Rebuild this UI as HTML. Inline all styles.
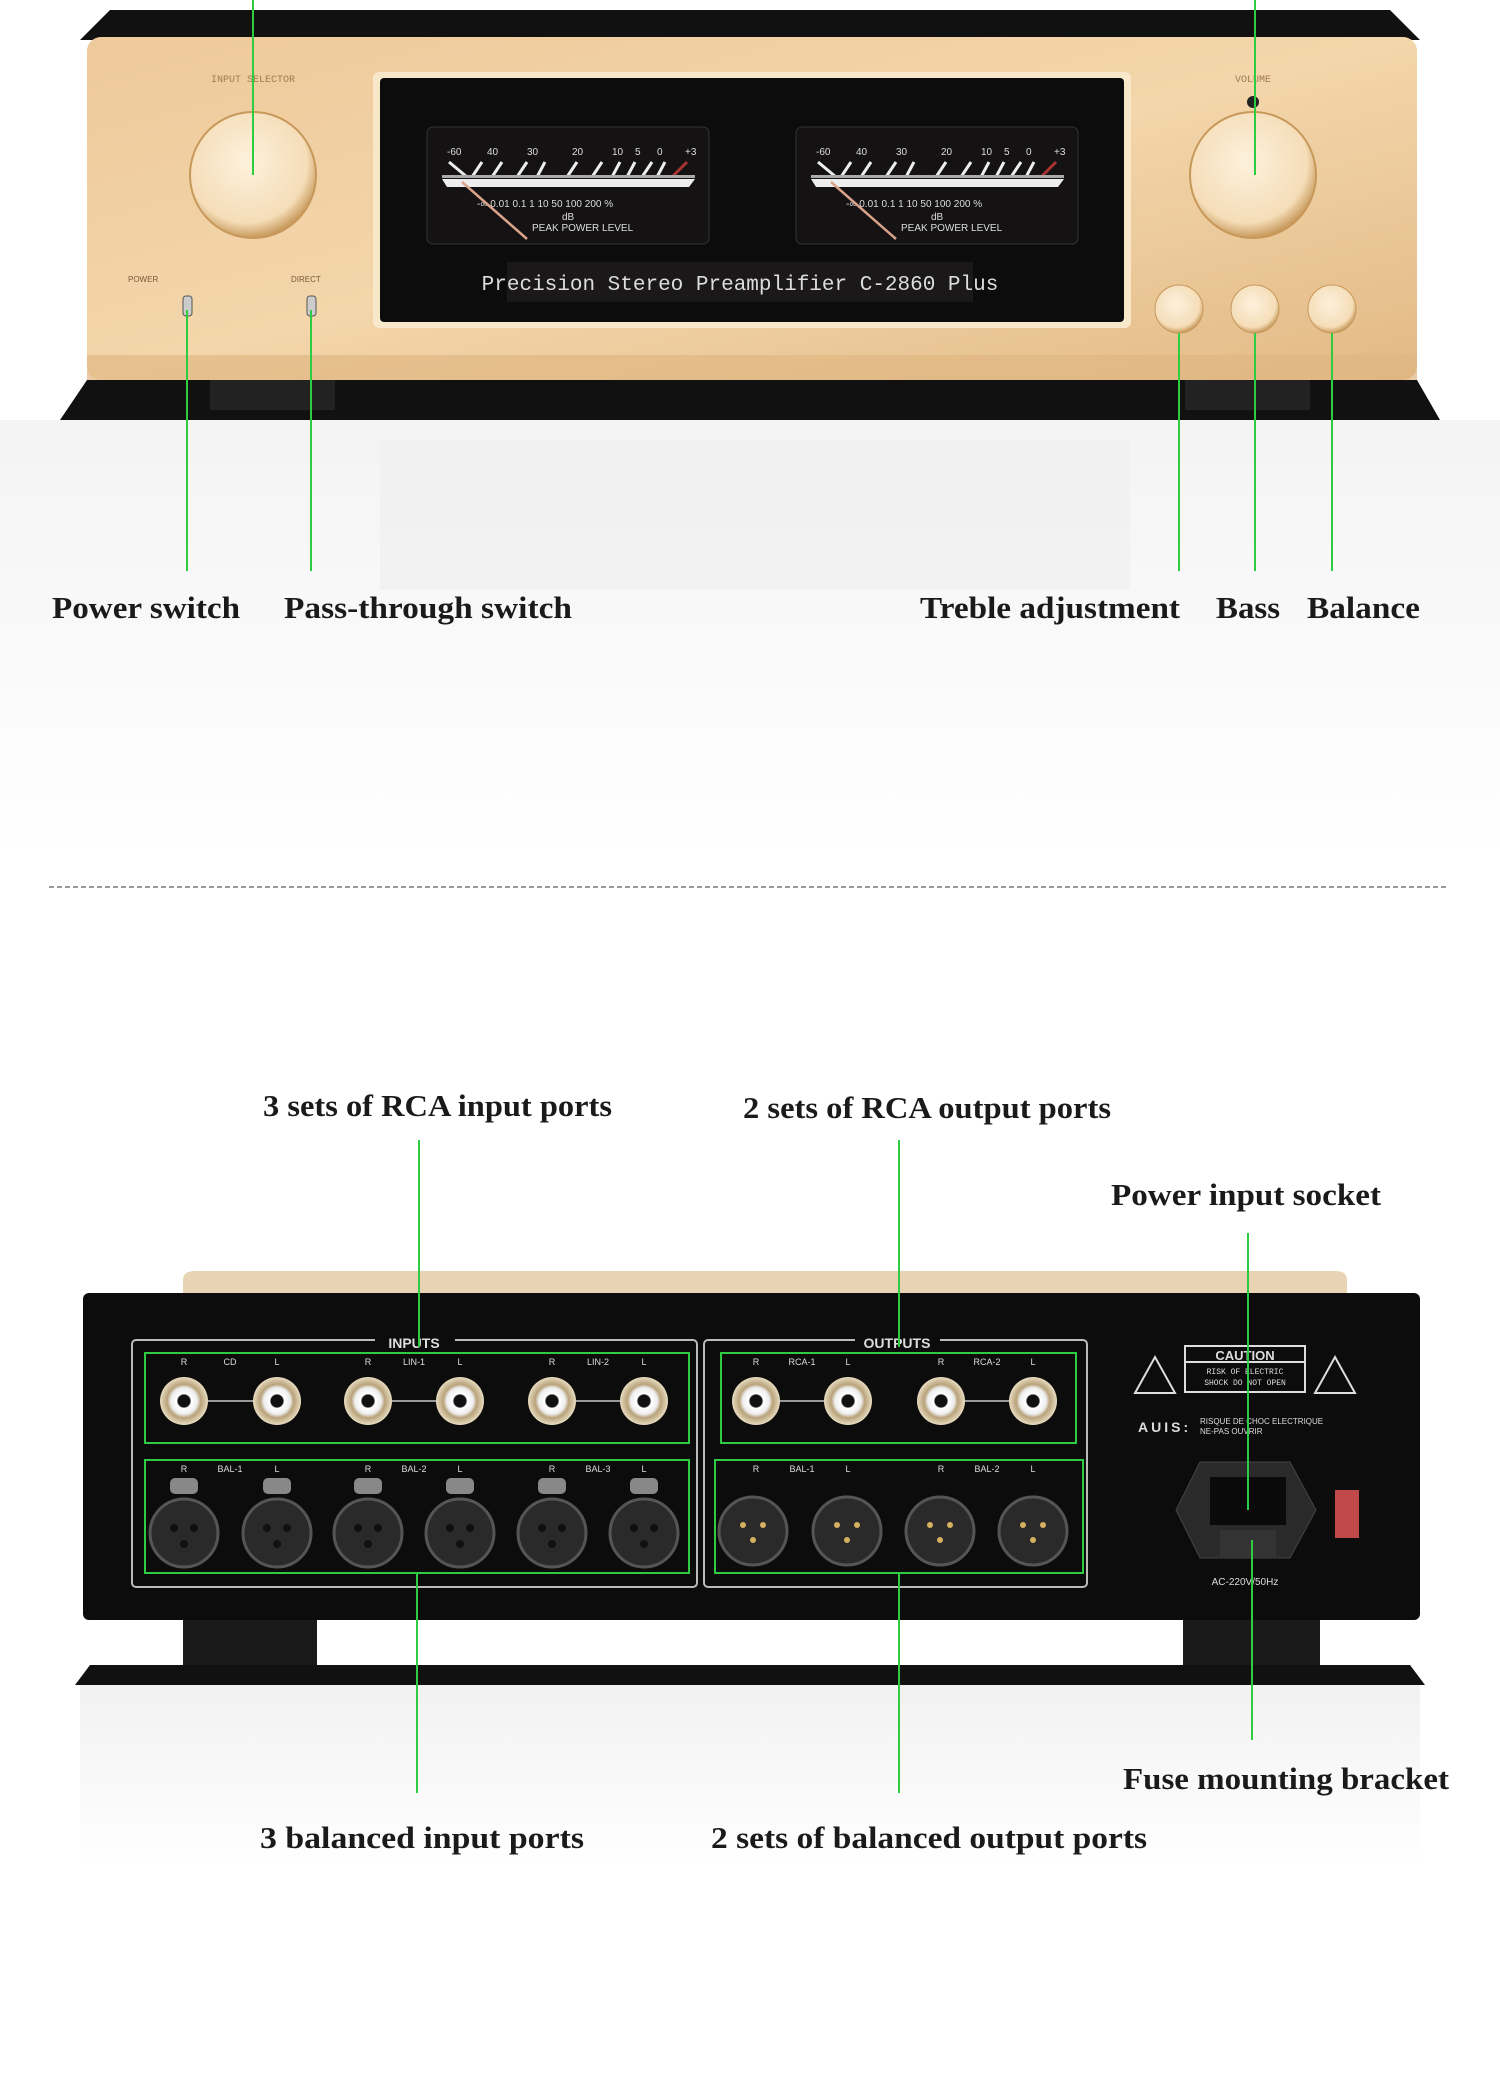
<!DOCTYPE html>
<html><head><meta charset="utf-8"><style>
html,body{margin:0;padding:0;background:#fff;}
svg{display:block;}
.lbl{font-family:"Liberation Serif",serif;font-weight:bold;font-size:31px;fill:#1a1a1a;}
.sm{font-family:"Liberation Sans",sans-serif;font-size:10px;fill:#ddd;}
</style></head><body>
<svg width="1500" height="2088" viewBox="0 0 1500 2088" xmlns="http://www.w3.org/2000/svg">
<defs>
<linearGradient id="gold" x1="0" y1="0" x2="1" y2="1">
<stop offset="0" stop-color="#eec99a"/><stop offset="0.5" stop-color="#f3d6ab"/><stop offset="1" stop-color="#e2b984"/></linearGradient>
<radialGradient id="knob" cx="0.45" cy="0.4" r="0.6"><stop offset="0" stop-color="#fdf1dc"/><stop offset="0.8" stop-color="#f5ddb8"/><stop offset="1" stop-color="#c89a5c"/></radialGradient>
<linearGradient id="refl" x1="0" y1="0" x2="0" y2="1"><stop offset="0" stop-color="#e8e8e8"/><stop offset="1" stop-color="#ffffff"/></linearGradient>
<radialGradient id="rca"><stop offset="0" stop-color="#111"/><stop offset="0.25" stop-color="#111"/><stop offset="0.3" stop-color="#fff"/><stop offset="0.55" stop-color="#eee"/><stop offset="0.7" stop-color="#b8a27a"/><stop offset="1" stop-color="#e8dcc0"/></radialGradient>
<g id="meter">
<rect x="0" y="0" width="282" height="117" rx="6" fill="#141212" stroke="#333"/>
<text x="20" y="28" class="sm" font-size="13">-60</text><text x="60" y="28" class="sm" font-size="13">40</text><text x="100" y="28" class="sm" font-size="13">30</text><text x="145" y="28" class="sm" font-size="13">20</text><text x="185" y="28" class="sm" font-size="13">10</text><text x="208" y="28" class="sm" font-size="13">5</text><text x="230" y="28" class="sm" font-size="13">0</text><text x="258" y="28" class="sm" font-size="13">+3</text>
<path d="M22 35 L40 50 M45 50 L55 35 M65 50 L75 35 M90 50 L100 35 M110 50 L118 35 M140 50 L150 35 M165 50 L175 35 M185 50 L193 35 M200 50 L208 35 M215 50 L225 35 M230 50 L238 35" stroke="#eee" stroke-width="3"/>
<path d="M245 50 L260 35" stroke="#a33" stroke-width="3"/>
<polygon points="15,52 268,52 262,60 20,60" fill="#eee"/>
<polygon points="15,48 268,48 268,51 15,51" fill="#aaa"/>
<text x="50" y="80" class="sm" font-size="8">-∞  0.01  0.1  1   10 50 100 200 %</text>
<text x="135" y="93" class="sm" font-size="10">dB</text>
<text x="105" y="104" class="sm" font-size="7">PEAK POWER LEVEL</text>
<line x1="35" y1="55" x2="100" y2="112" stroke="#d9a28a" stroke-width="2.5"/>
</g>
</defs>

<!-- FRONT -->
<rect x="0" y="420" width="1500" height="440" fill="url(#refl)" opacity="0.5"/>
<rect x="380" y="440" width="750" height="150" fill="#f0f0f0" opacity="0.7"/>
<polygon points="80,40 110,10 1390,10 1420,40" fill="#111"/>
<rect x="87" y="37" width="1330" height="343" rx="14" fill="url(#gold)"/>
<rect x="87" y="355" width="1330" height="25" fill="#e0b682" opacity="0.7"/>
<polygon points="87,380 1417,380 1440,420 60,420" fill="#111"/>
<rect x="210" y="380" width="125" height="30" fill="#222"/>
<rect x="1185" y="380" width="125" height="30" fill="#222"/>
<rect x="373" y="72" width="758" height="256" rx="6" fill="#f8e7c8"/>
<rect x="380" y="78" width="744" height="244" rx="4" fill="#0d0c0c"/>
<use href="#meter" x="427" y="127"/>
<use href="#meter" x="796" y="127"/>
<rect x="507" y="262" width="466" height="40" fill="#1a1818"/>
<text x="740" y="290" text-anchor="middle" font-family="Liberation Mono,monospace" font-size="21" fill="#ddd">Precision Stereo Preamplifier C-2860 Plus</text>
<text x="253" y="82" text-anchor="middle" font-family="Liberation Mono,monospace" font-size="10" fill="#a07a50">INPUT SELECTOR</text>
<text x="1253" y="82" text-anchor="middle" font-family="Liberation Mono,monospace" font-size="10" fill="#a07a50">VOLUME</text>
<circle cx="253" cy="175" r="63" fill="url(#knob)" stroke="#c8985a" stroke-width="2"/>
<circle cx="1253" cy="175" r="63" fill="url(#knob)" stroke="#c8985a" stroke-width="2"/>
<circle cx="1253" cy="102" r="6" fill="#222"/>
<circle cx="1179" cy="309" r="24" fill="url(#knob)" stroke="#c8985a"/>
<circle cx="1255" cy="309" r="24" fill="url(#knob)" stroke="#c8985a"/>
<circle cx="1332" cy="309" r="24" fill="url(#knob)" stroke="#c8985a"/>
<text x="128" y="282" font-family="Liberation Sans" font-size="8" fill="#7a5a3a">POWER</text>
<text x="291" y="282" font-family="Liberation Sans" font-size="8" fill="#7a5a3a">DIRECT</text>
<rect x="183" y="296" width="9" height="20" rx="3" fill="#ccc" stroke="#555"/>
<rect x="307" y="296" width="9" height="20" rx="3" fill="#ccc" stroke="#555"/>
<g stroke="#2ecc40" stroke-width="2">
<line x1="253" y1="0" x2="253" y2="175"/><line x1="1255" y1="0" x2="1255" y2="175"/>
<line x1="187" y1="310" x2="187" y2="571"/><line x1="311" y1="310" x2="311" y2="571"/>
<line x1="1179" y1="333" x2="1179" y2="571"/><line x1="1255" y1="333" x2="1255" y2="571"/><line x1="1332" y1="333" x2="1332" y2="571"/>
</g>
<text x="52" y="618" class="lbl" textLength="188" lengthAdjust="spacingAndGlyphs">Power switch</text>
<text x="284" y="618" class="lbl" textLength="288" lengthAdjust="spacingAndGlyphs">Pass-through switch</text>
<text x="920" y="618" class="lbl" textLength="260" lengthAdjust="spacingAndGlyphs">Treble adjustment</text>
<text x="1216" y="618" class="lbl" textLength="64" lengthAdjust="spacingAndGlyphs">Bass</text>
<text x="1307" y="618" class="lbl" textLength="113" lengthAdjust="spacingAndGlyphs">Balance</text>

<line x1="49" y1="887" x2="1448" y2="887" stroke="#999" stroke-width="2" stroke-dasharray="5,3"/>

<!-- REAR -->
<rect x="80" y="1680" width="1340" height="190" fill="url(#refl)" opacity="0.6"/>
<path d="M183 1304 L183 1280 Q183 1271 195 1271 L1335 1271 Q1347 1271 1347 1280 L1347 1304 Z" fill="#e8d4b4"/>
<rect x="83" y="1293" width="1337" height="327" rx="6" fill="#0c0c0c"/>
<rect x="183" y="1620" width="134" height="45" fill="#1a1a1a"/>
<rect x="1183" y="1620" width="137" height="45" fill="#1a1a1a"/>
<polygon points="90,1665 1410,1665 1425,1685 75,1685" fill="#111"/>
<rect x="132" y="1340" width="565" height="247" rx="4" fill="none" stroke="#bbb" stroke-width="2"/>
<rect x="704" y="1340" width="383" height="247" rx="4" fill="none" stroke="#bbb" stroke-width="2"/>
<rect x="375" y="1330" width="80" height="20" fill="#0c0c0c"/><text x="414" y="1348" text-anchor="middle" font-family="Liberation Sans" font-weight="bold" font-size="14" fill="#ddd">INPUTS</text>
<rect x="855" y="1330" width="85" height="20" fill="#0c0c0c"/><text x="897" y="1348" text-anchor="middle" font-family="Liberation Sans" font-weight="bold" font-size="14" fill="#ddd">OUTPUTS</text>
<g fill="none" stroke="#2ecc40" stroke-width="2">
<rect x="145" y="1353" width="544" height="90"/><rect x="145" y="1460" width="544" height="113"/>
<rect x="721" y="1353" width="355" height="90"/><rect x="715" y="1460" width="368" height="113"/>
</g>
<g stroke="#999" stroke-width="2"><line x1="184" y1="1401" x2="277" y2="1401"/><line x1="368" y1="1401" x2="460" y2="1401"/><line x1="552" y1="1401" x2="644" y2="1401"/><line x1="756" y1="1401" x2="848" y2="1401"/><line x1="941" y1="1401" x2="1033" y2="1401"/></g>
<g fill="url(#rca)">
<circle cx="184" cy="1401" r="24"/><circle cx="277" cy="1401" r="24"/><circle cx="368" cy="1401" r="24"/><circle cx="460" cy="1401" r="24"/><circle cx="552" cy="1401" r="24"/><circle cx="644" cy="1401" r="24"/>
<circle cx="756" cy="1401" r="24"/><circle cx="848" cy="1401" r="24"/><circle cx="941" cy="1401" r="24"/><circle cx="1033" cy="1401" r="24"/>
</g>
<g font-family="Liberation Sans" font-size="9" fill="#ddd" text-anchor="middle">
<text x="184" y="1365">R</text><text x="230" y="1365">CD</text><text x="277" y="1365">L</text>
<text x="368" y="1365">R</text><text x="414" y="1365">LIN-1</text><text x="460" y="1365">L</text>
<text x="552" y="1365">R</text><text x="598" y="1365">LIN-2</text><text x="644" y="1365">L</text>
<text x="756" y="1365">R</text><text x="802" y="1365">RCA-1</text><text x="848" y="1365">L</text>
<text x="941" y="1365">R</text><text x="987" y="1365">RCA-2</text><text x="1033" y="1365">L</text>
<text x="184" y="1472">R</text><text x="230" y="1472">BAL-1</text><text x="277" y="1472">L</text>
<text x="368" y="1472">R</text><text x="414" y="1472">BAL-2</text><text x="460" y="1472">L</text>
<text x="552" y="1472">R</text><text x="598" y="1472">BAL-3</text><text x="644" y="1472">L</text>
<text x="756" y="1472">R</text><text x="802" y="1472">BAL-1</text><text x="848" y="1472">L</text>
<text x="941" y="1472">R</text><text x="987" y="1472">BAL-2</text><text x="1033" y="1472">L</text>
</g>
<g>
<g fill="#888"><rect x="170" y="1478" width="28" height="16" rx="5"/><rect x="263" y="1478" width="28" height="16" rx="5"/><rect x="354" y="1478" width="28" height="16" rx="5"/><rect x="446" y="1478" width="28" height="16" rx="5"/><rect x="538" y="1478" width="28" height="16" rx="5"/><rect x="630" y="1478" width="28" height="16" rx="5"/></g>
<g fill="#2a2a2a" stroke="#555" stroke-width="3">
<circle cx="184" cy="1533" r="34"/><circle cx="277" cy="1533" r="34"/><circle cx="368" cy="1533" r="34"/><circle cx="460" cy="1533" r="34"/><circle cx="552" cy="1533" r="34"/><circle cx="644" cy="1533" r="34"/>
<circle cx="753" cy="1531" r="34"/><circle cx="847" cy="1531" r="34"/><circle cx="940" cy="1531" r="34"/><circle cx="1033" cy="1531" r="34"/>
</g>
<g fill="#111"><circle cx="174" cy="1528" r="4"/><circle cx="194" cy="1528" r="4"/><circle cx="184" cy="1544" r="4"/><circle cx="267" cy="1528" r="4"/><circle cx="287" cy="1528" r="4"/><circle cx="277" cy="1544" r="4"/><circle cx="358" cy="1528" r="4"/><circle cx="378" cy="1528" r="4"/><circle cx="368" cy="1544" r="4"/><circle cx="450" cy="1528" r="4"/><circle cx="470" cy="1528" r="4"/><circle cx="460" cy="1544" r="4"/><circle cx="542" cy="1528" r="4"/><circle cx="562" cy="1528" r="4"/><circle cx="552" cy="1544" r="4"/><circle cx="634" cy="1528" r="4"/><circle cx="654" cy="1528" r="4"/><circle cx="644" cy="1544" r="4"/></g>
<g fill="#d4b060"><circle cx="743" cy="1525" r="3"/><circle cx="763" cy="1525" r="3"/><circle cx="753" cy="1540" r="3"/><circle cx="837" cy="1525" r="3"/><circle cx="857" cy="1525" r="3"/><circle cx="847" cy="1540" r="3"/><circle cx="930" cy="1525" r="3"/><circle cx="950" cy="1525" r="3"/><circle cx="940" cy="1540" r="3"/><circle cx="1023" cy="1525" r="3"/><circle cx="1043" cy="1525" r="3"/><circle cx="1033" cy="1540" r="3"/></g>
</g>
<g fill="none" stroke="#ddd" stroke-width="2">
<rect x="1185" y="1346" width="120" height="46"/><line x1="1185" y1="1362" x2="1305" y2="1362"/>
<polygon points="1135,1393 1155,1357 1175,1393"/><polygon points="1315,1393 1335,1357 1355,1393"/>
</g>
<text x="1245" y="1360" text-anchor="middle" font-family="Liberation Sans" font-weight="bold" font-size="13" fill="#ddd">CAUTION</text>
<text x="1245" y="1374" text-anchor="middle" font-family="Liberation Mono" font-size="8" fill="#ddd">RISK OF ELECTRIC</text>
<text x="1245" y="1385" text-anchor="middle" font-family="Liberation Mono" font-size="8" fill="#ddd">SHOCK DO NOT OPEN</text>
<text x="1138" y="1432" font-family="Liberation Sans" font-weight="bold" font-size="14" fill="#ddd" letter-spacing="3">AUIS:</text>
<text x="1200" y="1424" font-family="Liberation Sans" font-size="8" fill="#ddd">RISQUE DE CHOC ELECTRIQUE</text>
<text x="1200" y="1434" font-family="Liberation Sans" font-size="8" fill="#ddd">NE-PAS OUVRIR</text>
<polygon points="1200,1462 1290,1462 1316,1510 1290,1558 1200,1558 1176,1510" fill="#2a2a2a" stroke="#444"/>
<rect x="1210" y="1477" width="76" height="48" fill="#0a0a0a"/>
<rect x="1220" y="1530" width="56" height="28" fill="#333"/>
<rect x="1335" y="1490" width="24" height="48" fill="#c04848"/>
<text x="1245" y="1585" text-anchor="middle" font-family="Liberation Sans" font-size="10" fill="#ddd">AC-220V/50Hz</text>
<g stroke="#2ecc40" stroke-width="2">
<line x1="419" y1="1140" x2="419" y2="1347"/><line x1="899" y1="1140" x2="899" y2="1347"/>
<line x1="1248" y1="1233" x2="1248" y2="1510"/><line x1="1252" y1="1540" x2="1252" y2="1740"/>
<line x1="417" y1="1573" x2="417" y2="1793"/><line x1="899" y1="1573" x2="899" y2="1793"/>
</g>
<text x="263" y="1116" class="lbl" textLength="349" lengthAdjust="spacingAndGlyphs">3 sets of RCA input ports</text>
<text x="743" y="1118" class="lbl" textLength="368" lengthAdjust="spacingAndGlyphs">2 sets of RCA output ports</text>
<text x="1111" y="1205" class="lbl" textLength="270" lengthAdjust="spacingAndGlyphs">Power input socket</text>
<text x="1123" y="1789" class="lbl" textLength="326" lengthAdjust="spacingAndGlyphs">Fuse mounting bracket</text>
<text x="260" y="1848" class="lbl" textLength="324" lengthAdjust="spacingAndGlyphs">3 balanced input ports</text>
<text x="711" y="1848" class="lbl" textLength="436" lengthAdjust="spacingAndGlyphs">2 sets of balanced output ports</text>
</svg>
</body></html>
